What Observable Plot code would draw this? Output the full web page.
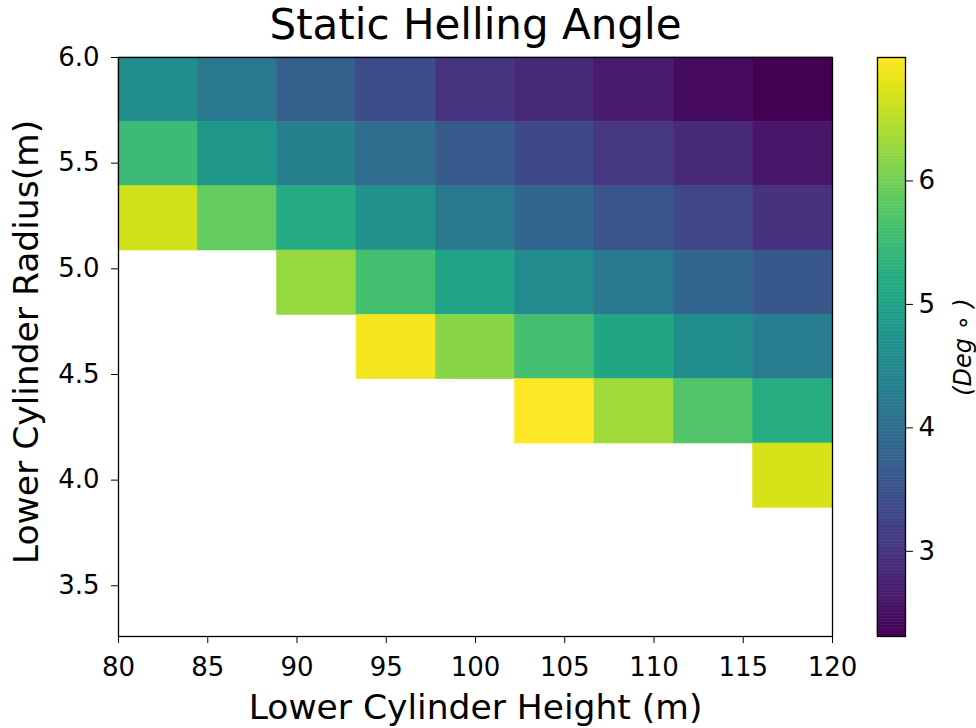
<!DOCTYPE html>
<html>
<head>
<meta charset="utf-8">
<script src="https://cdn.jsdelivr.net/npm/d3@7"></script>
<script src="https://cdn.jsdelivr.net/npm/@observablehq/plot@0.6"></script>
<style>
  html, body { margin: 0; padding: 0; background: #fff; }
  #wrap { position: relative; width: 976px; height: 728px; overflow: hidden; font-family: "DejaVu Sans", sans-serif; }
  #wrap svg { position: absolute; left: 0; top: 0; }
</style>
</head>
<body>
<div id="wrap"></div>
<script>
// Lower cylinder height (x) and radius (y) extents of the image grid
const heightExtent = [80, 120];
const radiusExtent = [3.26, 6.0];
// Static heeling angle (deg), rows from top (largest radius) to bottom; null = no value
const angleRows = [
  [4.61, 4.19, 3.72, 3.39, 3.01, 2.83, 2.64, 2.45, 2.31],
  [5.50, 4.80, 4.33, 3.95, 3.62, 3.34, 3.06, 2.83, 2.59],
  [6.67, 5.87, 5.17, 4.66, 4.19, 3.86, 3.53, 3.29, 2.97],
  [null, null, 6.25, 5.59, 5.03, 4.56, 4.19, 3.86, 3.58],
  [null, null, null, 6.91, 6.16, 5.59, 5.08, 4.61, 4.28],
  [null, null, null, null, null, 7.00, 6.34, 5.73, 5.22],
  [null, null, null, null, null, null, null, null, 6.72],
  [null, null, null, null, null, null, null, null, null],
  [null, null, null, null, null, null, null, null, null]
];
const xTicks = [80, 85, 90, 95, 100, 105, 110, 115, 120];
const yTicks = [3.5, 4.0, 4.5, 5.0, 5.5, 6.0];
const cbTicks = [3, 4, 5, 6];
const colorDomain = [2.31, 7.0];

const nRows = angleRows.length, nCols = angleRows[0].length;
const cw = (heightExtent[1] - heightExtent[0]) / nCols;
const rh = (radiusExtent[1] - radiusExtent[0]) / nRows;
const cells = [];
angleRows.forEach((row, r) => row.forEach((v, c) => {
  if (v == null) return;
  cells.push({
    x1: heightExtent[0] + c * cw, x2: heightExtent[0] + (c + 1) * cw,
    y2: radiusExtent[1] - r * rh, y1: radiusExtent[1] - (r + 1) * rh, v
  });
}));

const W = 976, H = 728;
const color = {type: "linear", scheme: "viridis", domain: colorDomain};
const font = "DejaVu Sans";
const tickFont = 26;

const main = Plot.plot({
  width: W, height: H,
  marginLeft: 118, marginRight: 144, marginTop: 57, marginBottom: 92,
  style: {fontFamily: font, fontSize: tickFont + "px", color: "black", background: "transparent"},
  x: {domain: heightExtent},
  y: {domain: radiusExtent},
  color,
  marks: [
    Plot.rect(cells, {x1: "x1", x2: "x2", y1: "y1", y2: "y2", fill: "v", stroke: "v", strokeWidth: 0.6}),
    Plot.frame({stroke: "black", strokeWidth: 1.3}),
    Plot.axisX({ticks: xTicks, tickSize: 7, tickPadding: 14, fontSize: tickFont, label: null, tickFormat: d3.format("d")}),
    Plot.axisY({ticks: yTicks, tickSize: 7, tickPadding: 12, fontSize: tickFont, label: null, tickFormat: d3.format(".1f")}),
    Plot.text(["Static Helling Angle"], {frameAnchor: "top", dy: -48, fontSize: 42, fill: "black"}),
    Plot.text(["Lower Cylinder Height (m)"], {frameAnchor: "bottom", dy: 82, fontSize: 34.5, fill: "black"}),
    Plot.text(["Lower Cylinder Radius(m)"], {frameAnchor: "left", textAnchor: "middle", dx: -92, dy: -5, rotate: -90, fontSize: 34.5, fill: "black"})
  ]
});

const nSlices = 200;
const slices = d3.range(nSlices).map(i => {
  const lo = colorDomain[0] + (colorDomain[1] - colorDomain[0]) * i / nSlices;
  const hi = colorDomain[0] + (colorDomain[1] - colorDomain[0]) * (i + 1) / nSlices;
  return {lo, hi, v: (lo + hi) / 2};
});

const cbar = Plot.plot({
  width: W, height: H,
  marginLeft: 877, marginRight: 71, marginTop: 57, marginBottom: 92,
  style: {fontFamily: font, fontSize: tickFont + "px", color: "black", background: "transparent"},
  y: {domain: colorDomain},
  color,
  marks: [
    Plot.rect(slices, {y1: "lo", y2: "hi", fill: "v", stroke: "v", strokeWidth: 0.5}),
    Plot.frame({stroke: "black", strokeWidth: 1.3}),
    Plot.axisY({anchor: "right", ticks: cbTicks, tickSize: 7, tickPadding: 6, fontSize: tickFont, label: null, tickFormat: d3.format("d")}),
    Plot.text(["(Deg ∘ )"], {frameAnchor: "right", textAnchor: "middle", dx: 58, rotate: -90, fontSize: 24, fill: "black", fontStyle: "italic"})
  ]
});

const wrap = document.getElementById("wrap");
wrap.appendChild(main);
wrap.appendChild(cbar);
</script>
</body>
</html>
